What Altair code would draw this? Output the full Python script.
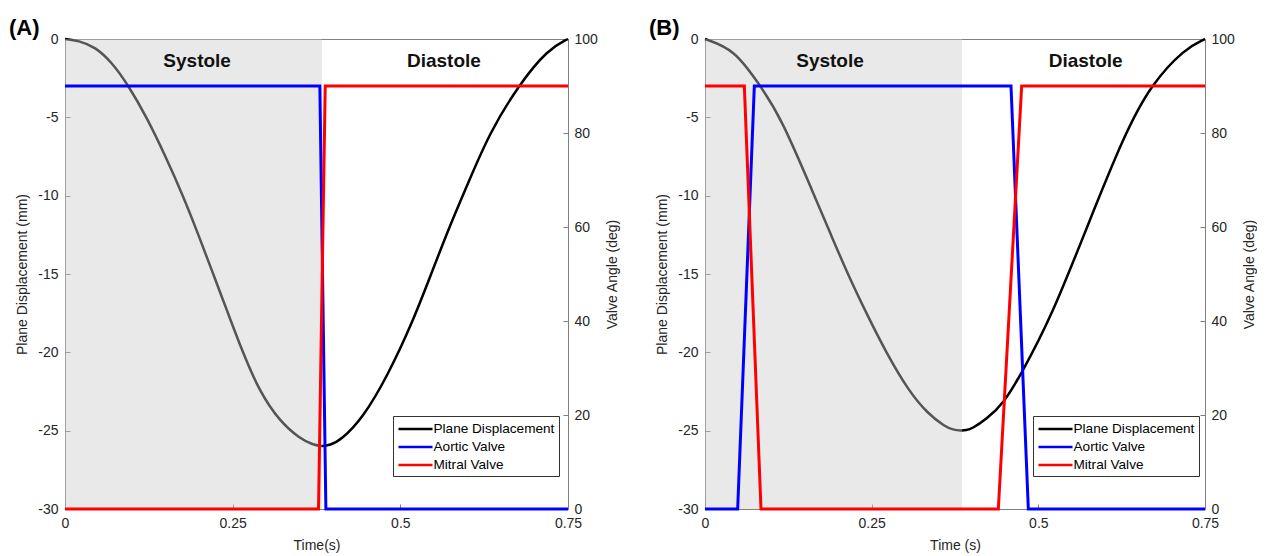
import altair as alt
import pandas as pd

SERIES = ["Plane Displacement", "Aortic Valve", "Mitral Valve"]
COLORS = ["#000000", "#0000ff", "#ff0000"]
PHASES = ["Systole", "Diastole"]
X_TICKS = [0, 0.25, 0.5, 0.75]
LEFT_TICKS = [-30, -25, -20, -15, -10, -5, 0]
RIGHT_TICKS = [0, 20, 40, 60, 80, 100]

# ---- Panel A ----
A_DISP_T = [0.000, 0.020, 0.045, 0.070, 0.0935, 0.122, 0.150, 0.176, 0.199, 0.221,
            0.243, 0.265, 0.290, 0.320, 0.350, 0.370, 0.383, 0.395, 0.4115, 0.444,
            0.481, 0.518, 0.546, 0.573, 0.603, 0.633, 0.677, 0.720, 0.750]
A_DISP_MM = [0.0, -0.1, -0.5, -1.5, -2.9, -5.0, -7.5, -10.0, -12.5, -15.0,
             -17.5, -20.0, -22.5, -24.4, -25.5, -25.9, -26.0, -25.93, -25.6, -24.2,
             -21.5, -18.1, -15.0, -12.0, -9.0, -6.0, -2.9, -0.66, 0.0]
A_AORTIC_T = [0.0, 0.380, 0.389, 0.75]
A_AORTIC_DEG = [90, 90, 0, 0]
A_MITRAL_T = [0.0, 0.378, 0.388, 0.75]
A_MITRAL_DEG = [0, 0, 90, 90]
A_SYSTOLE_END = 0.383
A_PHASE_T = [0.197, 0.565]

# ---- Panel B ----
B_DISP_T = [0.000, 0.044, 0.0815, 0.114, 0.164, 0.189, 0.214, 0.242, 0.2715, 0.306,
            0.334, 0.360, 0.372, 0.384, 0.392, 0.400, 0.4215, 0.449, 0.474, 0.519,
            0.574, 0.629, 0.669, 0.720, 0.750]
B_DISP_MM = [0.0, -0.66, -2.9, -5.0, -10.0, -12.5, -15.0, -17.5, -20.0, -22.5,
             -23.9, -24.75, -24.94, -25.0, -24.97, -24.88, -24.3, -23.2, -21.4, -17.8,
             -11.9, -6.1, -2.9, -0.6, 0.0]
B_AORTIC_T = [0.0, 0.049, 0.074, 0.459, 0.485, 0.75]
B_AORTIC_DEG = [0, 0, 90, 90, 0, 0]
B_MITRAL_T = [0.0, 0.059, 0.084, 0.440, 0.475, 0.75]
B_MITRAL_DEG = [90, 90, 0, 0, 90, 90]
B_SYSTOLE_END = 0.3855
B_PHASE_T = [0.1875, 0.571]

FONT = "Liberation Sans"


def panel(tag, xtitle, disp_t, disp_mm, aor_t, aor_deg, mit_t, mit_deg,
          sys_end, phase_t, width):
    disp = pd.DataFrame({"t": disp_t, "v": disp_mm, "series": SERIES[0]})
    valves = pd.concat([
        pd.DataFrame({"t": aor_t, "v": aor_deg, "series": SERIES[1]}),
        pd.DataFrame({"t": mit_t, "v": mit_deg, "series": SERIES[2]}),
    ])
    shade_df = pd.DataFrame({"t0": [0.0], "t1": [sys_end]})
    phase_df = pd.DataFrame({"t": phase_t, "label": PHASES})
    tag_df = pd.DataFrame({"label": [tag]})

    xscale = alt.Scale(domain=[0, 0.75], nice=False, zero=False)
    xaxis = alt.Axis(values=X_TICKS, labelExpr="'' + datum.value", title=xtitle,
                     grid=False, domain=False, offset=-5, tickSize=5,
                     labelPadding=7, titlePadding=8, labelFlush=False)
    legend = alt.Legend(title=None, orient="none", legendX=328, legendY=377,
                        symbolType="M-2.27,0H2.27", symbolSize=225,
                        symbolStrokeWidth=2.5, symbolOffset=9.5,
                        labelFontSize=13.6, labelColor="#000000", labelOffset=9,
                        padding=4, rowPadding=2, strokeColor="#333333",
                        fillColor="#ffffff", labelFont=FONT)
    color = alt.Color("series:N", scale=alt.Scale(domain=SERIES, range=COLORS),
                      legend=legend)

    line = alt.Chart(disp).mark_line(strokeWidth=2.5, interpolate="basis").encode(
        x=alt.X("t:Q", scale=xscale, axis=xaxis),
        y=alt.Y("v:Q", scale=alt.Scale(domain=[-30, 0], nice=False, zero=False),
                axis=alt.Axis(orient="left", values=LEFT_TICKS,
                              labelExpr="'' + datum.value",
                              title="Plane Displacement (mm)", grid=False,
                              domain=False, offset=-5, tickSize=5,
                              labelPadding=7, titlePadding=8, labelFlush=False)),
        color=color,
    )
    shade = alt.Chart(shade_df).mark_rect(color="#cacaca", opacity=0.42).encode(
        x=alt.X("t0:Q", scale=xscale), x2="t1:Q"
    )
    valve = alt.Chart(valves).mark_line(strokeWidth=3).encode(
        x=alt.X("t:Q", scale=xscale),
        y=alt.Y("v:Q", scale=alt.Scale(domain=[0, 100], nice=False),
                axis=alt.Axis(orient="right", values=RIGHT_TICKS,
                              title="Valve Angle (deg)", grid=False,
                              domain=False, offset=-5, tickSize=5,
                              labelPadding=6, titlePadding=8, titleAngle=270,
                              titleBaseline="top", labelFlush=False)),
        color=color,
        detail="series:N",
    )
    phases = alt.Chart(phase_df).mark_text(
        fontSize=19, fontWeight="bold", font=FONT, baseline="middle", color="#111111"
    ).encode(x=alt.X("t:Q", scale=xscale), y=alt.value(22), text="label:N")
    label = alt.Chart(tag_df).mark_text(
        fontSize=22, fontWeight="bold", font=FONT, align="left", baseline="middle",
        color="#000000"
    ).encode(x=alt.value(-56), y=alt.value(-11), text="label:N")

    return alt.layer(line, shade, valve, phases, label).resolve_scale(
        y="independent"
    ).properties(width=width, height=470)


pA = panel("(A)", "Time(s)", A_DISP_T, A_DISP_MM, A_AORTIC_T, A_AORTIC_DEG,
           A_MITRAL_T, A_MITRAL_DEG, A_SYSTOLE_END, A_PHASE_T, 503)
pB = panel("(B)", "Time (s)", B_DISP_T, B_DISP_MM, B_AORTIC_T, B_AORTIC_DEG,
           B_MITRAL_T, B_MITRAL_DEG, B_SYSTOLE_END, B_PHASE_T, 500)

chart = alt.hconcat(pA, pB, spacing=28).resolve_scale(
    color="independent"
).resolve_legend(color="independent").properties(
    padding={"left": 0, "top": 8, "right": 0, "bottom": 0}
).configure_view(
    stroke="#808080", strokeWidth=1
).configure_axis(
    labelFont=FONT, titleFont=FONT, labelFontSize=14, titleFontSize=14,
    titleFontWeight="normal", labelColor="#262626", titleColor="#262626",
    tickColor="#7f7f7f", tickWidth=1
)

chart.save("out.html", embed_options={"renderer": "svg", "actions": False})
